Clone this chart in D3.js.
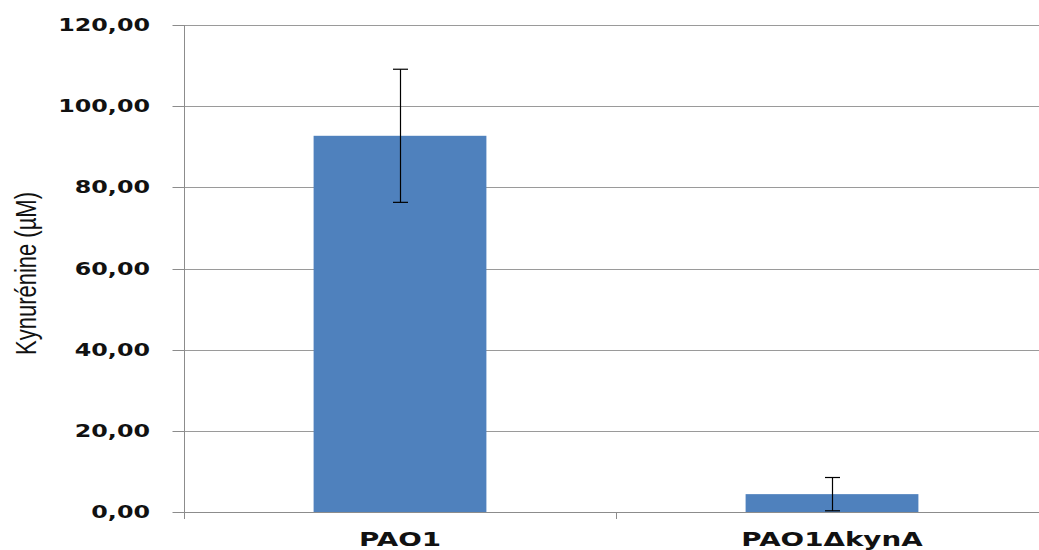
<!DOCTYPE html>
<html><head><meta charset="utf-8">
<script src="https://cdn.jsdelivr.net/npm/d3@7"></script>
<style>body{margin:0;background:#fff}svg{display:block}</style>
</head><body>
<script>
const categories = ["PAO1", "PAO1ΔkynA"];
const values = [92.7, 4.4];
const errors = [16.4, 4.1];
const yTicks = [0, 20, 40, 60, 80, 100, 120];
const yLabel = "Kynurénine (µM)";

const W = 1039, H = 550;
const m = {left: 184, top: 25, bottom: 38};
const plotRight = 1048;
const sx = 1.36;

const svg = d3.select("body").append("svg").attr("width", W).attr("height", H);
const y = d3.scaleLinear().domain([0, 120]).range([H - m.bottom, m.top]);
const x = d3.scaleBand().domain(categories).range([m.left, plotRight]).paddingInner(0.6).paddingOuter(0.3);

// gridlines
svg.append("g").selectAll("line").data(yTicks.filter(d => d > 0)).join("line")
  .attr("x1", m.left).attr("x2", plotRight)
  .attr("y1", d => Math.round(y(d)) + 0.5).attr("y2", d => Math.round(y(d)) + 0.5)
  .attr("stroke", "#9a9a9a").attr("stroke-width", 1);

// bars
svg.append("g").selectAll("rect").data(categories).join("rect")
  .attr("x", d => x(d)).attr("width", x.bandwidth())
  .attr("y", (d, i) => y(values[i])).attr("height", (d, i) => y(0) - y(values[i]))
  .attr("fill", "#4F81BD");

// error bars
const eb = svg.append("g").attr("stroke", "#000").attr("stroke-width", 1.2);
categories.forEach((c, i) => {
  const cx = Math.round(x(c) + x.bandwidth() / 2) + 0.5;
  const t = y(values[i] + errors[i]), b = y(values[i] - errors[i]);
  eb.append("line").attr("x1", cx).attr("x2", cx).attr("y1", t).attr("y2", b);
  eb.append("line").attr("x1", cx - 7.5).attr("x2", cx + 7.5).attr("y1", t).attr("y2", t);
  eb.append("line").attr("x1", cx - 7.5).attr("x2", cx + 7.5).attr("y1", b).attr("y2", b);
});

// y axis
const yAxis = d3.axisLeft(y).tickValues(yTicks).tickSize(12).tickFormat("");
const ga = svg.append("g").attr("transform", `translate(${m.left + 0.5},0)`).call(yAxis);
ga.select(".domain").attr("stroke", "#8c8c8c").attr("d", `M0,${m.top}V${y(0) + 6}`);
ga.selectAll(".tick line").attr("stroke", "#8c8c8c");
ga.selectAll(".tick").attr("transform", d => `translate(0,${Math.round(y(d)) + 0.5})`);

// y tick labels (stretched)
svg.append("g").selectAll("text").data(yTicks).join("text")
  .attr("transform", d => `translate(150,${y(d) + 6}) scale(${sx},1)`)
  .attr("text-anchor", "end")
  .attr("font-family", "DejaVu Sans").attr("font-weight", "bold").attr("font-size", 17.5)
  .attr("fill", "#111")
  .text(d => d3.format(".2f")(d).replace(".", ","));

// x axis line
svg.append("line").attr("x1", m.left).attr("x2", plotRight)
  .attr("y1", Math.round(y(0)) + 0.5).attr("y2", Math.round(y(0)) + 0.5)
  .attr("stroke", "#8c8c8c");
// category boundary ticks
const bounds = [m.left, (x(categories[0]) + x.bandwidth() / 2 + x(categories[1]) + x.bandwidth() / 2) / 2];
svg.append("g").selectAll("line").data(bounds).join("line")
  .attr("x1", d => Math.round(d) + 0.5).attr("x2", d => Math.round(d) + 0.5)
  .attr("y1", y(0)).attr("y2", y(0) + 7).attr("stroke", "#8c8c8c");

// x labels
svg.append("g").selectAll("text").data(categories).join("text")
  .attr("transform", d => `translate(${x(d) + x.bandwidth() / 2},545.5) scale(1.46,1)`)
  .attr("text-anchor", "middle")
  .attr("font-family", "DejaVu Sans").attr("font-weight", "bold").attr("font-size", 19)
  .attr("fill", "#111")
  .text(d => d);

// y label
svg.append("text")
  .attr("transform", `translate(36,${(m.top + y(0)) / 2 + 5}) rotate(-90) scale(1,${sx})`)
  .attr("text-anchor", "middle")
  .attr("font-family", "Liberation Sans Narrow, Liberation Sans").attr("font-size", 22)
  .attr("fill", "#111")
  .text(yLabel);
</script>
</body></html>
